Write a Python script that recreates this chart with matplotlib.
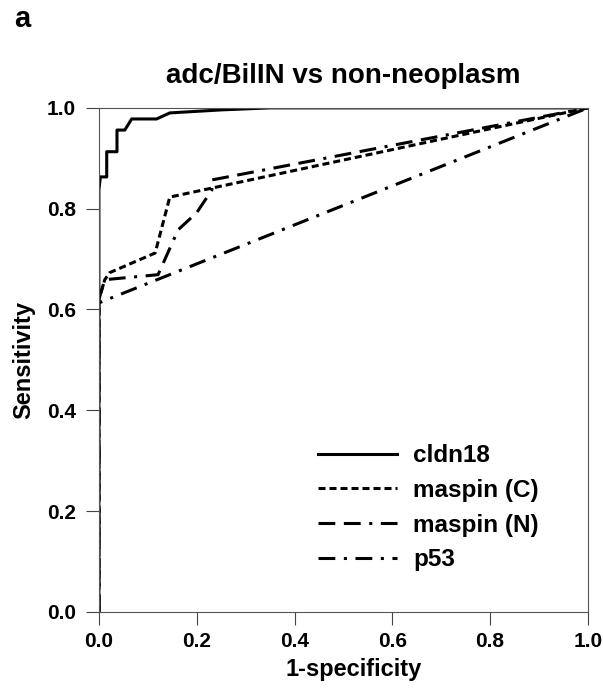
import matplotlib
matplotlib.use('Agg')
import matplotlib.pyplot as plt

plt.rcParams['font.family'] = ['Liberation Sans', 'DejaVu Sans']
plt.rcParams['font.weight'] = 'bold'

# ROC curve points
cldn18_x = [0.0, 0.0, 0.003, 0.016, 0.016, 0.037, 0.037, 0.053, 0.067, 0.118, 0.145, 0.25, 0.35, 1.0]
cldn18_y = [0.0, 0.837, 0.863, 0.863, 0.913, 0.913, 0.956, 0.956, 0.978, 0.978, 0.99, 0.996, 1.0, 1.0]

maspinC_x = [0.0, 0.0, 0.012, 0.022, 0.115, 0.145, 1.0]
maspinC_y = [0.0, 0.62, 0.659, 0.673, 0.712, 0.823, 1.0]

maspinN_x = [0.0, 0.0, 0.012, 0.121, 0.162, 0.2, 0.231, 0.231, 1.0]
maspinN_y = [0.0, 0.62, 0.659, 0.669, 0.758, 0.792, 0.837, 0.857, 1.0]

p53_x = [0.0, 0.0, 1.0]
p53_y = [0.0, 0.613, 1.0]

labels = ['cldn18', 'maspin (C)', 'maspin (N)', 'p53']
ticks = [0.0, 0.2, 0.4, 0.6, 0.8, 1.0]

fig = plt.figure(figsize=(6.03, 6.96), dpi=100)
ax = fig.add_axes([0.164, 0.121, 0.811, 0.724])

lw = 2.2
ax.plot(cldn18_x, cldn18_y, color='black', lw=lw, label=labels[0])
ax.plot(maspinC_x, maspinC_y, color='black', lw=lw, dashes=(2.3, 1.3), label=labels[1])
ax.plot(maspinN_x, maspinN_y, color='black', lw=lw, dashes=(5.5, 2.8, 5.5, 2.8, 1, 2.8), label=labels[2])
ax.plot(p53_x, p53_y, color='black', lw=lw, dashes=(5.5, 2.8, 1, 2.8), label=labels[3])

ax.set_xlim(0, 1)
ax.set_ylim(0, 1)
ax.set_xticks(ticks)
ax.set_yticks(ticks)
ax.set_xticklabels([f'{t:.1f}' for t in ticks], fontsize=15, fontweight='bold')
ax.set_yticklabels([f'{t:.1f}' for t in ticks], fontsize=15, fontweight='bold')
ax.tick_params(direction='out', length=9.5, width=0.8, color='#444444')
ax.tick_params(axis='x', pad=5)
ax.tick_params(axis='y', pad=7)
for s in ax.spines.values():
    s.set_linewidth(0.8)
    s.set_color('#555555')

ax.set_xlabel('1-specificity', fontsize=17, fontweight='bold', labelpad=5, x=0.52)
ax.set_ylabel('Sensitivity', fontsize=17, fontweight='bold', labelpad=8)
ax.set_title('adc/BilIN vs non-neoplasm', fontsize=20, fontweight='bold', pad=18)

fig.text(0.023, 0.961, 'a', fontsize=21, fontweight='bold')

leg = ax.legend(loc='upper left', bbox_to_anchor=(0.448, 0.3325), frameon=False,
                borderaxespad=0, borderpad=0,
                handlelength=3.25, handletextpad=0.66, labelspacing=0.48,
                prop={'weight': 'bold', 'size': 17.5})

fig.savefig('out.png', dpi=100)
